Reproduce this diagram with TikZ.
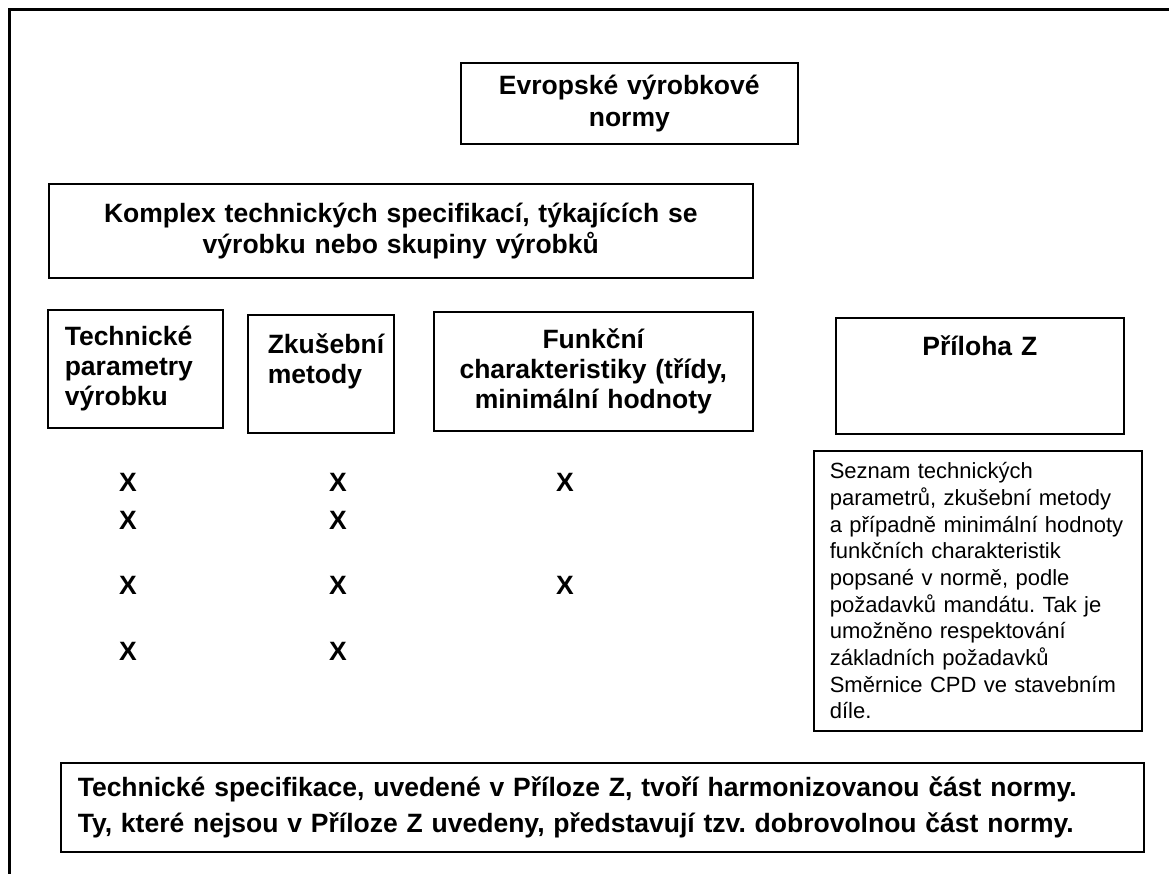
\documentclass[tikz,border=0pt]{standalone}
\usepackage{fontspec}
\setmainfont{Liberation Sans}
\usetikzlibrary{positioning}
\frenchspacing

\begin{document}
\begin{tikzpicture}[x=1pt, y=-1pt, on grid,
					box/.style={
						draw, line width=1.6pt, anchor=north west,
						inner ysep=0pt, inner xsep=0pt,
						font=\bfseries\fontsize{26.5}{30}\selectfont
					},
					xmark/.style={
						inner sep=0pt,
						font=\bfseries\fontsize{26.5}{30}\selectfont
					},
					frame/.style={line width=2.4pt}
				]
				\useasboundingbox (0,0) rectangle (1169,874);
				
				% outer frame, open at right and bottom
				\coordinate (fl) at (9.5,874);
				\coordinate (fr) at (1169,9.5);
				\draw[frame] (fl) |- (fr);
				
				\node[box, minimum width=337pt, minimum height=81pt, text width=337pt, align=center,
					font=\bfseries\fontsize{26.5}{31.5}\selectfont]
					(norm) at (460,62) {Evropské výrobkové\\normy};
				\node[box, minimum width=704pt, minimum height=94pt, text width=704pt, align=center,
					font=\bfseries\fontsize{26.5}{31}\selectfont]
					(komplex) at (48,183) {Komplex technických specifikací, týkajících se\\výrobku nebo skupiny výrobků};
				%
				\node[box, minimum width=175pt, minimum height=118pt, inner xsep=17pt, text width=141pt, align=left]
					(param) at (47,309) {Technické\\parametry\\výrobku};
				\node[box, minimum width=146pt, minimum height=118pt, inner xsep=10pt, text width=126pt, align=left]
					(metody) at (247,314) {\hspace*{10pt}Zkušební\\\hspace*{10pt}metody\\~};
				\node[box, minimum width=319pt, minimum height=119pt, text width=319pt, align=center]
					(funkce) at (433,311) {Funkční\\charakteristiky (třídy,\\minimální hodnoty};
				\node[box, minimum width=288pt, minimum height=116pt, text width=288pt, align=center]
					(priloha) at (835,317) {Příloha Z\\~\\~};
				%
				\node[box, minimum width=328pt, minimum height=280pt, inner xsep=16pt, text width=296pt, align=left,
					font=\fontsize{22}{26.7}\selectfont]
					(seznam) at (813,450) {Seznam technických\\parametrů, zkušební metody\\a případně minimální hodnoty\\funkčních charakteristik\\popsané v normě, podle\\požadavků mandátu. Tak je\\umožněno respektování\\základních požadavků\\Směrnice CPD ve stavebním\\díle.};
				
				\node[box, minimum width=1083pt, minimum height=89pt, inner xsep=17pt, text width=1049pt, align=left,
					font=\bfseries\fontsize{26.5}{36}\selectfont]
					(harm) at (60,762) {Technické specifikace, uvedené v Příloze Z, tvoří harmonizovanou část normy.\\Ty, které nejsou v Příloze Z uvedeny, představují tzv. dobrovolnou část normy.};
				
				% marks
				\node[xmark] (x11) at (128,482) {X};
				\node[xmark] (x12) [below=38pt of x11] {X};
				\node[xmark] (x13) [below=65pt of x12] {X};
				\node[xmark] (x14) [below=66pt of x13] {X};
				\node[xmark] (x21) [right=210pt of x11] {X};
				\node[xmark] (x22) [right=210pt of x12] {X};
				\node[xmark] (x23) [right=210pt of x13] {X};
				\node[xmark] (x24) [right=210pt of x14] {X};
				\node[xmark] (x31) [right=227pt of x21] {X};
				\node[xmark] (x33) [right=227pt of x23] {X};
			\end{tikzpicture}
\end{document}
